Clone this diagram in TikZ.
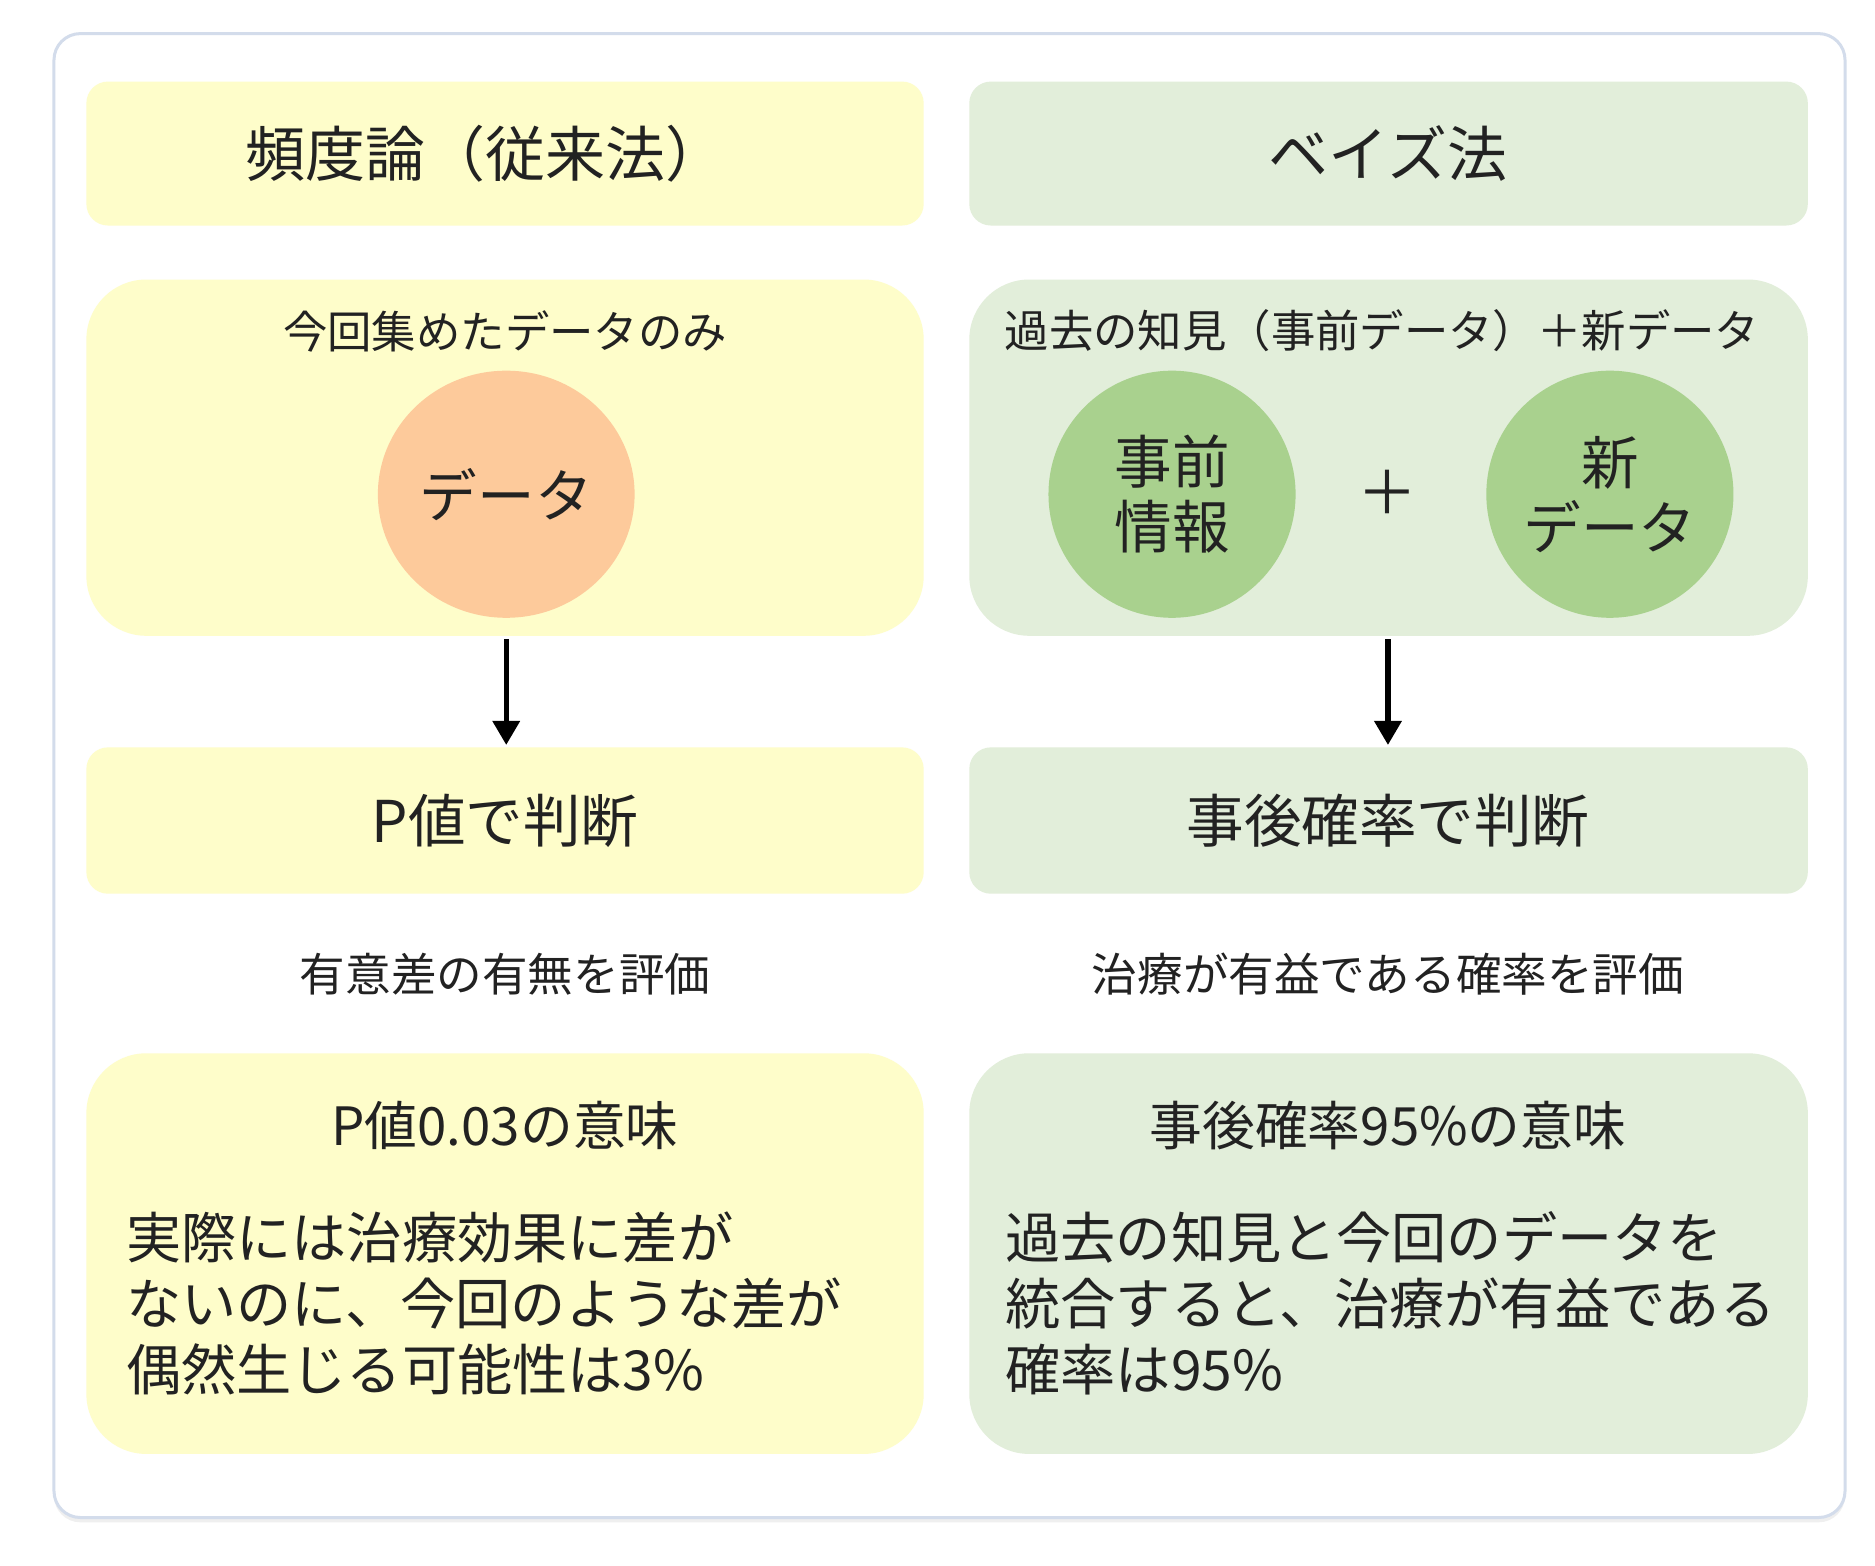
\documentclass[tikz,border=0pt]{standalone}
\usepackage{fontspec}
\setmainfont{Noto Sans CJK JP}
\usetikzlibrary{shadows,shapes.geometric,arrows.meta}
\definecolor{yel}{HTML}{FEFDCA}
\definecolor{grn}{HTML}{E2EEDA}
\definecolor{org}{HTML}{FDCA9B}
\definecolor{dgrn}{HTML}{A9D18E}
\definecolor{frame}{HTML}{D3DCEB}
\definecolor{txt}{HTML}{222222}
\begin{document}
\begin{tikzpicture}[x=1pt,y=-1pt,
  box/.style={rounded corners=18pt,draw=none},
  panel/.style={rounded corners=50pt,draw=none},
  t/.style={text=txt,inner sep=0pt},
  arr/.style={line width=4.5pt,-{Stealth[length=20pt,width=22pt,inset=0pt]}}]
\useasboundingbox (0,0) rectangle (1563,1305);
\fill[white] (0,0) rectangle (1563,1305);
\draw[frame,line width=2.5pt,fill=white,rounded corners=22pt,drop shadow={opacity=0.12,shadow xshift=0pt,shadow yshift=-4pt}] (45,28) rectangle (1538,1265);
% title boxes
\fill[yel,box] (72,68) rectangle (770,188);
\fill[grn,box] (808,68) rectangle (1507,188);
\node[t,font=\fontsize{50}{56}\selectfont] (lt) at (405,128) {頻度論（従来法）};
\node[t,font=\fontsize{50}{56}\selectfont] (rt) at (1157,128) {ベイズ法};
% panels
\fill[yel,panel] (72,233) rectangle (770,530);
\fill[grn,panel] (808,233) rectangle (1507,530);
\node[t,font=\fontsize{37}{42}\selectfont] (lp) at (421,276) {今回集めたデータのみ};
\node[t,font=\fontsize{37}{42}\selectfont] (rp) at (1152,276) {過去の知見（事前データ）＋新データ};
\node[ellipse,fill=org,minimum width=214pt,minimum height=206pt,inner sep=0pt,t,font=\fontsize{48}{54}\selectfont] (data) at (422,412) {データ};
\node[circle,fill=dgrn,minimum size=206pt,inner sep=0pt,t,align=center,font=\fontsize{48}{54}\selectfont] (prior) at (977,412) {事前\\ 情報};
\node[t,font=\fontsize{50}{54}\selectfont] (plus) at (1157,410) {＋};
\node[circle,fill=dgrn,minimum size=206pt,inner sep=0pt,t,align=center,font=\fontsize{48}{54}\selectfont] (new) at (1342,412) {新\\ データ};
% decision boxes
\fill[yel,box] (72,623) rectangle (770,745);
\fill[grn,box] (808,623) rectangle (1507,745);
\node[t,font=\fontsize{48}{54}\selectfont] (lj) at (421,684) {P値で判断};
\node[t,font=\fontsize{48}{54}\selectfont] (rj) at (1157,684) {事後確率で判断};
\coordinate (la) at (422,533); \coordinate (lb) at (422,621);
\coordinate (ra) at (1157,533); \coordinate (rb) at (1157,621);
\draw[arr] (la) -- (lb);
\draw[arr] (ra) -- (rb);
\node[t,font=\fontsize{38}{44}\selectfont] (le) at (421,812) {有意差の有無を評価};
\node[t,font=\fontsize{38}{44}\selectfont] (re) at (1157,812) {治療が有益である確率を評価};
% bottom panels
\fill[yel,panel] (72,878) rectangle (770,1212);
\fill[grn,panel] (808,878) rectangle (1507,1212);
\node[t,font=\fontsize{44}{50}\selectfont] (lm) at (421,938) {P値0.03の意味};
\node[t,font=\fontsize{44}{50}\selectfont] (rm) at (1157,938) {事後確率95\%の意味};
\node[t,anchor=north west,align=left,font=\fontsize{46}{55}\selectfont] (lb2) at (105,1010) {実際には治療効果に差が\\ ないのに、今回のような差が\\ 偶然生じる可能性は3\%};
\node[t,anchor=north west,align=left,font=\fontsize{46}{55}\selectfont] (rb2) at (838,1010) {過去の知見と今回のデータを\\ 統合すると、治療が有益である\\ 確率は95\%};
\end{tikzpicture}
\end{document}
